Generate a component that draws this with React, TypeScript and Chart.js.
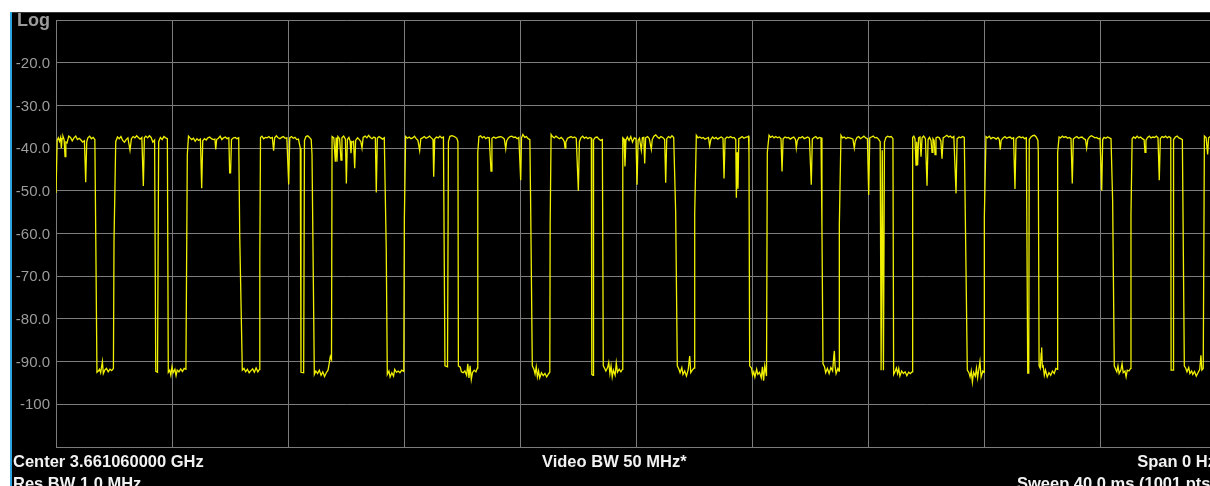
import React, { useEffect, useRef } from "react";
import { Chart, registerables } from "chart.js";

Chart.register(...registerables);

// Zero-span sweep: [sweep point index (0..1000), level dBm]
const trace: [number, number][] = [
  [0,-50.5],[1,-38.2],[2,-37.6],[3,-38.4],[4,-37.5],[4.6,-40],[5.2,-37.8],[6,-37.2],[7,-38],[7.8,-42],[8.5,-38.6],[9.5,-38.8],[11,-37.2],[12.5,-37.5],[14,-38.3],[15.5,-37.6],[17,-37.2],[18.5,-38],[20,-37.7],[21.5,-38.1],[23,-38.6],[24.5,-38.3],[25.6,-48],[26.5,-38.5],[27.5,-37.6],[29,-37.2],[30.5,-37.8],[32,-37.5],[33.5,-38],[34.3,-61.3],[35.3,-92.5],
  [36.5,-92.2],[37.5,-91.8],[38.5,-92.6],[40,-90],[40.8,-92.8],[42,-92],[43.5,-91.6],[45,-92.4],[46.5,-91.8],[48,-92.1],[49.5,-91.6],[50,-62],[51.5,-38.5],
  [53,-37.4],[54.5,-37.8],[56,-37.3],[57.5,-38.2],[59,-38.6],[60.5,-38],[62,-37.6],[63.8,-40.5],[65,-37.8],[66.5,-37.3],[68,-37.6],[69.5,-37.1],[71,-37.5],[72.5,-37.9],[74,-37.5],[75.3,-48.9],[76.2,-37.6],[77.5,-37.2],[79,-37.6],[80.5,-37.1],[82,-37.5],[83.5,-38.6],[85,-38.1],[86,-92.3],[87.5,-92.5],[88.5,-38.5],[90,-37.5],[91.5,-38],[93,-37.3],[94.5,-37.6],[96,-37.8],[96.8,-92.5],
  [98,-92],[99,-93.2],[100,-91.2],[101,-92.6],[102.5,-91.8],[103.5,-93.3],[104.5,-92],[106,-92.4],[107.5,-91.7],[109,-92.3],[110.5,-91.6],[112,-91.8],[113.2,-41.6],[114.2,-37.2],
  [115.5,-37.6],[117,-38],[118.5,-37.7],[120,-38.4],[121.5,-37.8],[123,-38.2],[124.5,-37.9],[125.6,-49.4],[126.5,-38.3],[128,-37.8],[129.5,-38.1],[131,-37.6],[132.5,-37.4],[134,-37.8],[135.5,-38],[137,-37.9],[137.7,-40.3],[138.5,-38],[140,-37.7],[141.5,-37.2],[143,-38],[144.5,-37.6],[146,-37.4],[147.5,-37.8],[149,-37.6],[149.7,-45.8],[150.5,-45.8],[151.3,-38],[153,-37.6],[154.5,-37.5],[156,-37.8],[157.5,-37.6],[158.4,-60.7],[160.6,-92],
  [162,-91.6],[163.5,-92.4],[165,-91.8],[166.5,-92.6],[168,-92.1],[169.5,-91.7],[171,-92.5],[172.5,-91.5],[174,-92.4],[175.4,-91.8],[175.7,-66.2],[176.3,-37.5],
  [177.5,-37.2],[179,-37.8],[180.5,-37.5],[182,-37.6],[183.5,-37.3],[185,-37.7],[186.5,-37.5],[187.6,-40.6],[188.5,-37.6],[190,-37.1],[191.5,-37.6],[193,-37.8],[194.5,-37.5],[196,-37.3],[197.5,-37.7],[199,-37.6],[200.6,-48.5],[201.5,-37.6],[203,-37.3],[204.5,-37.7],[206,-37.5],[207.5,-38],[209,-37.9],[210.6,-40],[211.2,-92.5],[213.5,-92.6],[214.2,-38.2],[215.5,-37.3],[217,-37.1],[218.5,-37.5],[220,-38],[220.7,-41.5],[222.7,-93],
  [224,-92.2],[225.5,-92.8],[227,-92],[228.5,-93.2],[230,-92.4],[231.5,-93.5],[233,-92.6],[234.5,-92],[235.5,-90.5],[236.5,-88.8],[237.5,-89.5],[238,-37.3],
  [239.5,-37.6],[240.8,-43.2],[241.5,-37.5],[242.2,-43.2],[243,-37.3],[244.5,-37.8],[245.7,-42.8],[246.5,-37.6],[248,-37.2],[249.5,-37.9],[250.3,-48.3],[251.2,-38],[252.5,-37.5],[253.5,-38.3],[254.3,-41.2],[255,-38.6],[256.5,-38.4],[257.5,-44.7],[258.3,-38.2],[260,-37.6],[261.5,-38],[262.8,-38.5],[263.8,-40],[264.8,-37.5],[266.5,-37.2],[268,-37.6],[269.5,-37],[271,-37.5],[272.5,-37.8],[274,-37.4],[275.3,-37.6],[276.1,-50.4],[277,-37.7],[278.5,-37.3],[280,-37.6],[281.5,-37.9],[283,-37.6],[284.7,-63.7],[285.6,-93],
  [287,-92.2],[288,-93.6],[289.5,-92.6],[291,-93.4],[292,-91.8],[293.5,-92.5],[295,-92.2],[296.5,-92.6],[298,-92],[299.8,-92.3],[300.3,-56.7],[301.4,-37.3],
  [303,-37.7],[304.5,-37.4],[306,-37.8],[307.5,-37.6],[309,-37.2],[310.5,-37.8],[312,-38.2],[313.5,-40.6],[314.5,-37.8],[316,-37.6],[317.5,-37.3],[319,-37.7],[320.5,-37.5],[322,-37.2],[323.5,-37.6],[325,-38],[325.6,-46.7],[326.5,-37.8],[328,-37.4],[329.5,-37.6],[331,-37.2],[332.5,-37.6],[334,-37.4],[335.3,-91],[337.5,-91.2],[338.3,-38.5],[339.5,-37.3],[341,-37.1],[342.5,-37.2],[344,-37.4],[345.5,-37.7],[346.5,-38.5],[346.9,-91],
  [348.5,-91.3],[349.5,-92.4],[351,-92.6],[352.5,-92.2],[354,-93.2],[355,-90.5],[356,-93.8],[357,-91],[358,-94.2],[359,-92.6],[360.5,-92],[362,-92.4],[363.3,-91.5],[363.6,-41],[364.6,-37.3],
  [366,-37.1],[367.5,-37.6],[369,-37.3],[370.5,-37.8],[372,-37.5],[373.5,-37.6],[375,-45.4],[375.8,-37.7],[377.5,-37.4],[379,-37.7],[380.5,-37.5],[382,-37.4],[383.5,-37.3],[385,-37.5],[386.5,-37.9],[387.7,-40.2],[388.5,-38.3],[390,-37.6],[391.5,-37.3],[393,-37.2],[394.5,-37.5],[396,-37.4],[397.5,-37.8],[399,-37.5],[400.6,-47.5],[401.3,-37.6],[402.5,-36.8],[404,-37.5],[405.5,-37.3],[407,-37.8],[408.5,-38],[409.2,-53.7],[410.6,-91],
  [412,-91.8],[413,-92.9],[414,-91.2],[415,-93.6],[416,-92.2],[417,-93.8],[418.5,-92.6],[420,-93.3],[421.5,-92.8],[423,-93.6],[424.5,-92.9],[425.7,-92.5],[426,-58],[426.8,-36.8],
  [428,-37.3],[429.5,-37.6],[431,-37.2],[432.5,-37.5],[434,-37.8],[435.5,-37.5],[437,-37.9],[438.2,-38.5],[438.8,-40],[439.5,-38.6],[441,-37.7],[442.5,-37.5],[444,-37.3],[445.5,-37.6],[447,-37.4],[448.5,-37.7],[450.3,-50],[451.2,-38.5],[452.5,-37.6],[454,-37.2],[455.5,-37.7],[457,-37.4],[458.5,-37.8],[460,-37.5],[461.5,-37.7],[461.9,-93],[463,-93.2],[463.4,-38.1],[465,-37.5],[466.5,-37.4],[468,-37.9],[469.5,-38.2],[471,-38],[471.8,-91],
  [473,-91.6],[474,-92.2],[475.5,-91.4],[476.5,-90.2],[477.5,-92.8],[478.5,-91],[479.5,-93.6],[480.5,-92],[482,-93.2],[483,-90.3],[484,-92.5],[485.5,-91.8],[487,-92.4],[488.3,-91.8],[488.6,-37.6],
  [489.7,-37.9],[490.5,-44.3],[491.3,-38.2],[492.5,-37.4],[494,-38.2],[495.5,-37.3],[497,-38.6],[498.5,-37.6],[500,-37.8],[500.9,-48.6],[501.8,-38.2],[503,-37.7],[504.6,-40.5],[505.5,-37.6],[506.7,-37.5],[507.5,-43.6],[508.3,-37.6],[510,-37.3],[511.5,-37.8],[513.2,-40.3],[514,-38],[515.5,-37.2],[517,-36.9],[518.5,-37.4],[520,-37.7],[521.5,-37.3],[523,-37.5],[524.7,-38],[525.6,-48.1],[526.5,-37.8],[528,-37.3],[529.5,-37.6],[531,-37.1],[532.5,-37.5],[534.2,-55],[535.6,-91],
  [537,-91.8],[538,-92.6],[539.5,-91.4],[540.5,-93],[542,-92.2],[543.5,-93.4],[545,-91.9],[546.3,-88.7],[547.2,-92.6],[548.5,-92],[550.2,-91.5],[550.6,-55.3],[552,-37],
  [553.5,-37.6],[555,-37.4],[556.5,-37.7],[558,-37.5],[559.5,-37.9],[561,-37.7],[562.5,-37.5],[563.5,-39.5],[564.5,-38],[566,-37.4],[567.5,-37.8],[569,-37.5],[570.5,-37.9],[572,-37.6],[573.5,-37.4],[575,-37.7],[575.9,-47.1],[576.8,-37.8],[578.5,-37.4],[580,-37.6],[581.5,-37.3],[583,-37.6],[584.5,-37.5],[586,-38],[586.5,-51.6],[587.2,-41],[587.9,-49.5],[588.6,-37.8],[590,-37.6],[591.5,-37.3],[593,-37.7],[594.5,-37.5],[596,-37.4],[597,-37.2],[597.4,-41],[598,-91],
  [599.5,-91.5],[600.5,-93.2],[601.5,-92.4],[602.5,-93.6],[604,-91.8],[605,-93],[606.5,-92.5],[608,-93.8],[609,-91.2],[610,-94.5],[611,-91],[612.5,-93.4],[613.2,-41],[614.7,-37],
  [616,-37.5],[617.5,-37.2],[619,-37.6],[620.5,-37.3],[622,-37.6],[623.5,-37.4],[625,-37.8],[625.9,-45.5],[626.8,-37.8],[628.5,-37.4],[630,-37.6],[631.5,-37.5],[633,-37.9],[634.5,-37.6],[636,-37.4],[637.5,-38],[638.2,-40],[639,-38.3],[640.5,-37.5],[642,-37.6],[643.5,-37.3],[645,-37.8],[646.5,-37.6],[648,-37.4],[649.5,-37.7],[651.1,-48.6],[652,-37.9],[653.5,-37.5],[655,-37.3],[656.5,-37.8],[658,-37.5],[659.5,-37.6],[660.3,-58.6],[661.2,-90.5],
  [662.5,-91.2],[663.5,-92.6],[665,-91.6],[666.5,-92.8],[668,-91.4],[669.5,-92.2],[670.5,-88.8],[671,-87.5],[671.6,-91],[672.5,-92.8],[674,-91.6],[675,-92.2],[675.3,-57.8],[676.7,-37],
  [678,-37.6],[679.5,-37.4],[681,-37.8],[682.5,-37.5],[684,-37.6],[685.5,-37.7],[687,-37.9],[688.2,-40],[689,-38.4],[690.5,-37.5],[692,-37.3],[693.5,-37.8],[695,-37.5],[696.5,-37.2],[698,-37.6],[699.5,-37.8],[700.6,-51],[701.5,-37.6],[703,-37.4],[704.5,-37.2],[706,-37.6],[707.5,-37.5],[709,-37.9],[710.5,-38.5],[711.3,-92],[712.3,-40.5],[713.3,-92],[714.2,-38.6],[715.5,-37.5],[717,-37.2],[718.5,-37.4],[720,-37.3],[721.5,-37.8],[722.1,-93],
  [723.5,-92.2],[724.5,-91.5],[725.5,-92.8],[726.5,-91.6],[727.5,-93.4],[729,-92.2],[730.5,-92.8],[732,-92.4],[733.5,-93.3],[735,-92.5],[736.5,-92.8],[738,-92.4],[738.5,-37.5],
  [739.5,-37.2],[740.5,-37.8],[741.4,-44],[742,-38.5],[742.8,-44],[743.6,-37.6],[744.8,-37.4],[745.7,-42],[746.6,-37.6],[748,-37.2],[749.5,-37.8],[750.9,-48.8],[751.8,-38],[753,-37.5],[754.3,-38.2],[755.2,-41],[756,-37.8],[757,-38.2],[757.8,-41.5],[758.6,-37.6],[760,-37.4],[761.5,-37.6],[762.8,-38.3],[763.8,-42.5],[764.8,-37.6],[766.5,-37.3],[768,-37],[769.5,-37.4],[771,-37.2],[772.5,-37.6],[774,-37.3],[775.9,-50.6],[776.8,-37.8],[778.5,-37.4],[780,-37.6],[781.5,-37.3],[783,-37.5],[784.5,-68.5],[785.6,-92],
  [787,-92.6],[788,-93.6],[789,-92.2],[790,-94.8],[791,-92.5],[792.5,-93.4],[793.5,-91.5],[794.5,-93.8],[795.5,-91.8],[796.5,-90],[797.5,-93.6],[799,-92.2],[800,-92.5],[800.3,-56],[801.7,-37.3],
  [803,-37.6],[804.5,-37.2],[806,-37.8],[807.5,-37.5],[809,-37.6],[810.5,-37.9],[812,-37.5],[813.2,-38],[814,-40.4],[814.8,-38.2],[816.5,-37.6],[818,-37.3],[819.5,-37.7],[821,-37.5],[822.5,-37.4],[824,-37.8],[825.5,-37.6],[826.7,-49.6],[827.6,-37.9],[829,-37.5],[830.5,-37.3],[832,-37.6],[833.5,-37.4],[835,-37.8],[836.5,-37.6],[837.7,-92.7],[838.6,-92.7],[839,-38],[840.5,-37.4],[842,-37.1],[843.5,-37],[845,-37.4],[846.5,-38.2],[846.8,-41],[847.5,-91],
  [848.5,-91.6],[849.3,-88],[849.7,-86.7],[850.3,-91.2],[851,-91],[852,-93.2],[853,-92],[854.5,-93.6],[856,-92.6],[857.5,-93.2],[859,-92.2],[860.5,-92.8],[862,-91.6],[863.3,-91.8],[863.5,-41],[864.7,-37.4],
  [866,-37.6],[867.5,-37.2],[869,-37.5],[870.5,-37.3],[872,-37.7],[873.5,-37.5],[875,-37.8],[876.1,-48.3],[877,-37.9],[878.5,-37.5],[880,-37.3],[881.5,-37.7],[883,-37.5],[884.5,-37.4],[886,-37.8],[887.5,-38],[888.5,-40],[889.5,-38],[891,-37.4],[892.5,-37.1],[894,-37.3],[895.5,-37.6],[897,-37.5],[898.5,-37.8],[900,-37.7],[901.5,-50],[902.3,-38],[903.5,-37.5],[905,-37.7],[906.5,-37.4],[908,-37.6],[909.5,-37.8],[910.9,-52.4],[912.3,-91],
  [913.5,-91.8],[914.5,-92.4],[915.5,-91],[916.5,-92.8],[918,-92],[919,-90.5],[920,-92.6],[921.5,-92.2],[922.5,-93.6],[923.5,-92],[925,-92.2],[926.4,-91.6],[926.7,-55.7],[927.7,-37.8],
  [929,-37.4],[930.5,-37.7],[932,-37.2],[933.5,-37.6],[935,-37.4],[936.5,-37.8],[938,-38],[938.8,-41],[939.6,-38.2],[941,-37.5],[942.5,-37.2],[944,-37.6],[945.5,-37.4],[947,-37.5],[948.5,-37.2],[950,-37.6],[951.1,-47.5],[952,-37.8],[953.5,-37.3],[955,-37.5],[956.5,-37.2],[958,-37.6],[959.5,-37.3],[961,-37.6],[961.3,-92],[963,-92],[963.4,-38],[965,-37.4],[966.5,-37.2],[968,-37.6],[969.5,-37.8],[971,-38],[972.7,-91],
  [974,-91.6],[975,-92.4],[976.5,-91.4],[977.5,-92.8],[979,-92.2],[980,-93],[981.5,-92.3],[983,-93.4],[984.5,-92.6],[986,-91.8],[987,-88.5],[987.8,-92],[989,-91.6],[990,-37.2],
  [991.5,-37.6],[992.8,-41.5],[993.6,-37.6],[995,-37.3],[996.5,-37.6],[998,-37.4],[999.5,-37.8],[1000,-37.5],
];

const yTickValues = [-10, -20, -30, -40, -50, -60, -70, -80, -90, -100];
const yTickLabels = ["Log", "-20.0", "-30.0", "-40.0", "-50.0", "-60.0", "-70.0", "-80.0", "-90.0", "-100"];
const footerLeft = ["Center 3.661060000 GHz", "Res BW 1.0 MHz"];
const footerCenter = ["Video BW 50 MHz*"];
const footerRight = ["Span 0 Hz", "Sweep 40.0 ms (1001 pts)"];

const FONT = "'Liberation Sans', Arial, sans-serif";

const labelPlugin = {
  id: "saLabels",
  afterDraw(chart: any) {
    const ctx = chart.ctx;
    const y = chart.scales.y;
    const area = chart.chartArea;
    ctx.save();
    ctx.textBaseline = "middle";
    ctx.textAlign = "right";
    yTickValues.forEach((v, i) => {
      const py = y.getPixelForValue(v);
      if (i === 0) {
        ctx.font = `bold 18px ${FONT}`;
      } else {
        ctx.font = `15px ${FONT}`;
      }
      ctx.fillStyle = "#9c9c9c";
      ctx.fillText(yTickLabels[i], area.left - 6, py + 1);
    });
    ctx.textBaseline = "alphabetic";
    ctx.fillStyle = "#f2f2f2";
    ctx.font = `bold 16.5px ${FONT}`;
    const base = area.bottom + 20;
    const lh = 21.5;
    ctx.textAlign = "left";
    footerLeft.forEach((t, i) => ctx.fillText(t, 1, base + i * lh));
    footerCenter.forEach((t, i) => ctx.fillText(t, 530, base + i * lh));
    ctx.textAlign = "right";
    footerRight.forEach((t, i) => ctx.fillText(t, area.right, base + i * lh));
    ctx.restore();
  },
};

export default function App() {
  const ref = useRef<HTMLCanvasElement | null>(null);
  useEffect(() => {
    if (!ref.current) return;
    const chart = new Chart(ref.current, {
      type: "line",
      data: {
        datasets: [
          {
            data: trace.map(([x, y]) => ({ x, y })),
            borderColor: "#f0f000",
            borderWidth: 1.3,
            pointRadius: 0,
            tension: 0,
            fill: false,
          },
        ],
      },
      options: {
        animation: false,
        responsive: false,
        maintainAspectRatio: false,
        layout: { padding: { left: 44, top: 8, right: 26, bottom: 39 } },
        plugins: { legend: { display: false }, tooltip: { enabled: false } },
        scales: {
          x: {
            type: "linear",
            min: 0,
            max: 1000,
            ticks: { display: false, stepSize: 100 },
            grid: { color: "#7c7c7c", lineWidth: 1, drawTicks: false },
            border: { color: "#7c7c7c" },
          },
          y: {
            type: "linear",
            min: -110,
            max: -10,
            ticks: { display: false, stepSize: 10 },
            grid: { color: "#7c7c7c", lineWidth: 1, drawTicks: false },
            border: { color: "#7c7c7c" },
          },
        },
      },
      plugins: [labelPlugin],
    });
    return () => chart.destroy();
  }, []);

  return (
    <div style={{ position: "fixed", left: 0, top: 0, width: 1210, height: 486, overflow: "hidden", background: "#ffffff" }}>
      <div style={{ position: "absolute", left: 10, top: 12, width: 2, height: 474, background: "#2aa5e2" }} />
      <div style={{ position: "absolute", left: 12, top: 12, width: 1230, height: 474, background: "#000000", borderTop: "1px solid #3a3a3a", boxSizing: "border-box" }} />
      <canvas ref={ref} width={1230} height={474} style={{ position: "absolute", left: 12, top: 12, width: 1230, height: 474 }} />
    </div>
  );
}
